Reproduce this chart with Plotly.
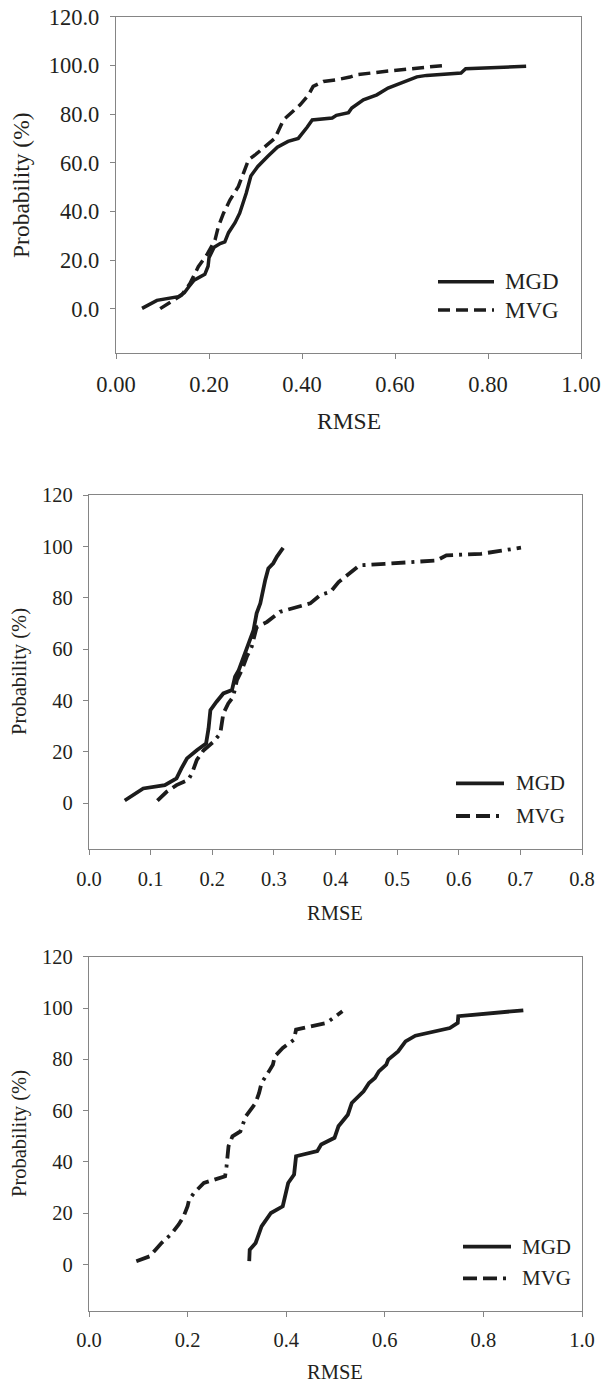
import plotly.graph_objects as go

W, H = 602, 1384

# ---------------- data ----------------
# Panel 1
p1_mgd_x = [0.056, 0.088, 0.134, 0.147, 0.157, 0.168, 0.191, 0.198, 0.200, 0.211, 0.224, 0.234,
            0.242, 0.256, 0.266, 0.280, 0.290, 0.305, 0.326, 0.347, 0.370, 0.392, 0.411, 0.422,
            0.465, 0.474, 0.500, 0.507, 0.532, 0.561, 0.585, 0.614, 0.647, 0.668, 0.742, 0.752, 0.882]
p1_mgd_y = [0.2, 3.5, 5.0, 6.6, 9.2, 11.8, 14.2, 17.5, 21.0, 25.3, 26.8, 27.5,
            31.3, 35.4, 39.3, 47.5, 54.6, 58.5, 62.6, 66.4, 68.8, 70.0, 74.6, 77.6,
            78.4, 79.5, 80.6, 82.5, 85.9, 87.9, 90.7, 93.0, 95.3, 95.9, 96.9, 98.6, 99.6]
p1_mvg_x = [0.095, 0.120, 0.141, 0.159, 0.177, 0.195, 0.213, 0.220, 0.231, 0.245, 0.263, 0.274,
            0.285, 0.299, 0.324, 0.342, 0.360, 0.385, 0.396, 0.414, 0.424, 0.446, 0.474, 0.503,
            0.519, 0.577, 0.618, 0.660, 0.701]
p1_mvg_y = [0.1, 2.9, 5.6, 10.4, 17.3, 22.1, 28.3, 33.7, 39.2, 44.7, 50.2, 55.7,
            61.2, 63.2, 67.4, 70.1, 77.6, 81.8, 83.8, 87.9, 91.4, 93.4, 94.1, 95.2,
            96.2, 97.5, 98.2, 98.9, 99.9]

# Panel 2
p2_mgd_x = [0.058, 0.088, 0.123, 0.142, 0.150, 0.159, 0.175, 0.190, 0.194, 0.197, 0.207, 0.218,
            0.232, 0.237, 0.243, 0.251, 0.259, 0.267, 0.272, 0.278, 0.286, 0.291, 0.299, 0.305, 0.315]
p2_mgd_y = [1.0, 5.7, 7.0, 9.6, 13.5, 17.4, 20.6, 23.2, 29.1, 36.2, 39.5, 42.7,
            44.0, 49.2, 51.8, 57.0, 62.2, 67.4, 73.9, 77.8, 86.9, 91.4, 93.4, 96.0, 99.4]
p2_mvg_x = [0.111, 0.126, 0.142, 0.161, 0.167, 0.175, 0.186, 0.202, 0.213, 0.215, 0.218, 0.226,
            0.234, 0.240, 0.248, 0.256, 0.264, 0.272, 0.289, 0.310, 0.338, 0.359, 0.375, 0.392,
            0.405, 0.439, 0.480, 0.564, 0.580, 0.636, 0.667, 0.701]
p2_mvg_y = [1.0, 4.4, 7.0, 9.0, 11.6, 16.8, 20.6, 23.9, 27.1, 29.7, 34.9, 38.8,
            41.4, 47.9, 51.8, 57.0, 60.9, 68.5, 70.6, 74.5, 76.5, 77.8, 81.0, 82.3,
            86.1, 92.6, 93.2, 94.5, 96.5, 97.1, 98.2, 99.5]

# Panel 3
p3_mgd_x = [0.325, 0.326, 0.338, 0.350, 0.369, 0.393, 0.404, 0.416, 0.420, 0.463, 0.471, 0.498,
            0.506, 0.525, 0.533, 0.557, 0.568, 0.580, 0.588, 0.603, 0.607, 0.627, 0.642, 0.662,
            0.732, 0.748, 0.749, 0.881]
p3_mgd_y = [1.3, 5.8, 8.4, 14.9, 20.1, 22.7, 31.8, 35.1, 42.2, 44.2, 46.8, 49.4,
            53.9, 58.4, 63.0, 67.5, 70.8, 72.7, 75.3, 77.9, 79.9, 83.1, 87.0, 89.2,
            92.2, 94.2, 96.8, 99.1]
p3_mvg_x = [0.096, 0.123, 0.135, 0.147, 0.166, 0.182, 0.192, 0.200, 0.203, 0.213, 0.233, 0.252,
            0.276, 0.279, 0.283, 0.291, 0.307, 0.318, 0.338, 0.345, 0.350, 0.365, 0.373, 0.377,
            0.393, 0.416, 0.420, 0.482, 0.514]
p3_mvg_y = [1.3, 3.2, 5.8, 8.4, 11.7, 15.6, 18.8, 22.7, 25.3, 27.9, 31.8, 33.1,
            34.4, 38.3, 46.1, 50.0, 51.9, 57.8, 63.0, 66.9, 70.8, 75.3, 77.9, 81.2,
            84.4, 87.7, 91.6, 94.2, 98.7]

series_names = ["MGD", "MVG"]
y_title = "Probability (%)"
x_title = "RMSE"

# ---------------- layout helpers ----------------
def px(x):
    return x / W

def py(y):
    return 1 - y / H

LINE = "#1c1c1c"
AX = "#858585"
TXT = "#231f20"
FONT = "Liberation Serif, Times New Roman, serif"

panels = [
    dict(mgd=(p1_mgd_x, p1_mgd_y), mvg=(p1_mvg_x, p1_mvg_y),
         box=(116, 581, 16.7, 352.7), xr=[0, 1], xd=0.2, xf=".2f", yf=".1f", fs=22.5,
         mvg_dash="12px,6px", lw=3.5,
         ytitle=(21, 185, 23.5), xtitle=(349, 421, 23.5, "middle"),
         leg=(438, 494, 281.7, 310, 503)),
    dict(mgd=(p2_mgd_x, p2_mgd_y), mvg=(p2_mvg_x, p2_mvg_y),
         box=(89, 582, 495, 849.3), xr=[0, 0.8], xd=0.1, xf=".1f", yf="d", fs=20.5,
         mvg_dash="14px,6px,14px,6px,3px,6px", lw=3.8,
         ytitle=(19, 672, 20.5), xtitle=(335, 913, 20.5, "middle"),
         leg=(456, 504, 783.3, 816, 514)),
    dict(mgd=(p3_mgd_x, p3_mgd_y), mvg=(p3_mvg_x, p3_mvg_y),
         box=(89, 582, 956.7, 1310.7), xr=[0, 1], xd=0.2, xf=".1f", yf="d", fs=20.5,
         mvg_dash="14px,6px,14px,6px,3px,6px", lw=3.8,
         ytitle=(19, 1134, 20.5), xtitle=(335, 1383.5, 20.5, "bottom"),
         leg=(463, 511, 1246.7, 1278.3, 520)),
]

fig = go.Figure()
shapes = []
annotations = []
layout_axes = {}

for i, p in enumerate(panels, start=1):
    sfx = "" if i == 1 else str(i)
    xref = "x" + sfx
    yref = "y" + sfx
    fig.add_trace(go.Scatter(x=p["mgd"][0], y=p["mgd"][1], mode="lines", name=series_names[0],
                             line=dict(color=LINE, width=p["lw"]), xaxis=xref, yaxis=yref,
                             showlegend=False, hoverinfo="skip"))
    fig.add_trace(go.Scatter(x=p["mvg"][0], y=p["mvg"][1], mode="lines", name=series_names[1],
                             line=dict(color=LINE, width=p["lw"], dash=p["mvg_dash"]),
                             xaxis=xref, yaxis=yref, showlegend=False, hoverinfo="skip"))
    l, r, t, b = p["box"]
    common = dict(showline=True, linecolor=AX, linewidth=1.3, mirror=True, showgrid=False,
                  zeroline=False, ticks="outside", ticklen=5, tickwidth=1.2, tickcolor=AX,
                  automargin=False,
                  tickfont=dict(family=FONT, size=p["fs"], color=TXT))
    layout_axes["xaxis" + sfx] = dict(domain=[px(l), px(r)], anchor=yref, range=p["xr"],
                                      dtick=p["xd"], tick0=0, tickformat=p["xf"],
                                      ticklabelstandoff=6, **common)
    layout_axes["yaxis" + sfx] = dict(domain=[py(b), py(t)], anchor=xref, range=[-18, 120],
                                      dtick=20, tick0=0, tickformat=p["yf"],
                                      ticklabelstandoff=6, **common)
    # axis titles
    tx, ty, tfs = p["ytitle"]
    annotations.append(dict(text=y_title, x=px(tx), y=py(ty), xref="paper", yref="paper",
                            textangle=-90, showarrow=False, xanchor="center", yanchor="middle",
                            font=dict(family=FONT, size=tfs, color=TXT)))
    tx, ty, tfs, yanc = p["xtitle"]
    annotations.append(dict(text=x_title, x=px(tx), y=py(ty), xref="paper", yref="paper",
                            showarrow=False, xanchor="center", yanchor=yanc, borderpad=0,
                            font=dict(family=FONT, size=tfs, color=TXT)))
    # legend
    lx0, lx1, ly1, ly2, ltx = p["leg"]
    for name, ly, dash in [(series_names[0], ly1, "solid"), (series_names[1], ly2, p["mvg_dash"])]:
        shapes.append(dict(type="line", xref="paper", yref="paper", x0=px(lx0), x1=px(lx1),
                           y0=py(ly), y1=py(ly), line=dict(color=LINE, width=p["lw"], dash=dash)))
        annotations.append(dict(text=name, x=px(ltx), y=py(ly), xref="paper", yref="paper",
                                showarrow=False, xanchor="left", yanchor="middle",
                                font=dict(family=FONT, size=p["fs"] + 0.5, color=TXT)))

fig.update_layout(width=W, height=H, margin=dict(l=0, r=0, t=0, b=0, autoexpand=False),
                  paper_bgcolor="white", plot_bgcolor="white", showlegend=False,
                  hovermode=False,
                  shapes=shapes, annotations=annotations, **layout_axes)

fig.write_html("out.html", config={"displayModeBar": False},
               post_script="document.body.style.margin='0';document.body.style.overflow='hidden';")
